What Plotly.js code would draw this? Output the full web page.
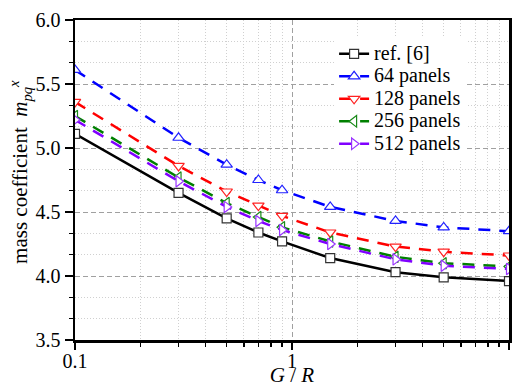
<!DOCTYPE html>
<html>
<head>
<meta charset="utf-8">
<script src="https://cdn.plot.ly/plotly-3.0.1.min.js"></script>
<style>html,body{margin:0;padding:0;background:#fff;}#chart{width:518px;height:387px;}</style>
</head>
<body>
<div id="chart"></div>
<script>
// Data
const gOverR = [0.1, 0.3, 0.5, 0.7, 0.9, 1.5, 3, 5, 10];
const ref6      = [5.11, 4.65, 4.45, 4.34, 4.27, 4.14, 4.03, 3.99, 3.96];
const panels64  = [5.61, 5.08, 4.87, 4.75, 4.67, 4.54, 4.43, 4.38, 4.35];
const panels128 = [5.36, 4.86, 4.66, 4.55, 4.47, 4.34, 4.23, 4.19, 4.16];
const panels256 = [5.25, 4.77, 4.57, 4.46, 4.38, 4.27, 4.15, 4.10, 4.075];
const panels512 = [5.22, 4.74, 4.54, 4.43, 4.36, 4.25, 4.13, 4.08, 4.055];
const seriesNames = ['ref. [6]', '64 panels', '128 panels', '256 panels', '512 panels'];

const FONT = '"Liberation Serif", "Times New Roman", serif';
const dashPat = '12px,9px';

function tr(y, name, color, symbol, dash, mcolor) {
  return {
    x: gOverR, y: y, type: 'scatter', mode: 'lines+markers',
    name: '<span style="font-size:20px">' + name + '</span>',
    line: {color: color, width: 2.5, dash: dash},
    marker: {symbol: symbol, size: symbol === 'square' ? 9 : 10, color: '#ffffff',
             line: {color: mcolor, width: 1.2}},
    cliponaxis: true
  };
}

const data = [
  tr(ref6, seriesNames[0], '#000000', 'square', 'solid', '#333333'),
  tr(panels64, seriesNames[1], '#0000ff', 'triangle-up', dashPat, '#2222ff'),
  tr(panels128, seriesNames[2], '#ff0000', 'triangle-down', dashPat, '#ff2222'),
  tr(panels256, seriesNames[3], '#008000', 'triangle-left', dashPat, '#1a8a1a'),
  tr(panels512, seriesNames[4], '#8000ff', 'triangle-right', dashPat, '#9933ff')
];

const layout = {
  width: 518, height: 387,
  margin: {l: 75, r: 9, t: 20, b: 47, pad: 0},
  paper_bgcolor: '#ffffff', plot_bgcolor: '#ffffff',
  font: {family: FONT, size: 20, color: '#000'},
  showlegend: true,
  legend: {
    x: 0.597, y: 0.945, xanchor: 'left', yanchor: 'top',
    bgcolor: '#ffffff', borderwidth: 0,
    font: {family: FONT, size: 15, color: '#000'},
    tracegroupgap: 0
  },
  xaxis: {
    type: 'log', range: [-1, 1], dtick: 1,
    showline: true, linecolor: '#000', linewidth: 2.5, mirror: true,
    ticks: 'outside', ticklen: 7, tickwidth: 2, tickcolor: '#000',
    ticklabelstandoff: -6,
    tickfont: {family: FONT, size: 20, color: '#000'},
    showgrid: true, gridcolor: '#a0a0a0', gridwidth: 1, griddash: '5px,3px',
    minor: {dtick: 'D1', ticks: 'outside', ticklen: 4, tickwidth: 1.5, tickcolor: '#000',
            showgrid: true, gridcolor: '#d0d0d0', gridwidth: 1, griddash: '1px,2px'},
    zeroline: false,
    title: {text: '<i>G</i> / <i>R</i>', font: {family: FONT, size: 21, color: '#000'}, standoff: 10}
  },
  yaxis: {
    range: [3.5, 6.0], dtick: 0.5, tick0: 3.5, tickformat: '.1f',
    showline: true, linecolor: '#000', linewidth: 2.5, mirror: true,
    ticks: 'outside', ticklen: 8, tickwidth: 2, tickcolor: '#000',
    tickfont: {family: FONT, size: 20, color: '#000'},
    showgrid: true, gridcolor: '#a0a0a0', gridwidth: 1, griddash: '5px,3px',
    minor: {dtick: 0.5 / 3, tick0: 3.5, ticks: 'outside', ticklen: 4, tickwidth: 1.5, tickcolor: '#000',
            showgrid: true, gridcolor: '#d0d0d0', gridwidth: 1, griddash: '1px,2px'},
    zeroline: false,
    title: {text: '&nbsp;&nbsp;&nbsp;mass coefficient  <i>m</i><sub><i>pq</i></sub><sup><i>x</i></sup>',
            font: {family: FONT, size: 21, color: '#000'}, standoff: 2}
  }
};

Plotly.newPlot('chart', data, layout, {displayModeBar: false, staticPlot: true});
</script>
</body>
</html>
